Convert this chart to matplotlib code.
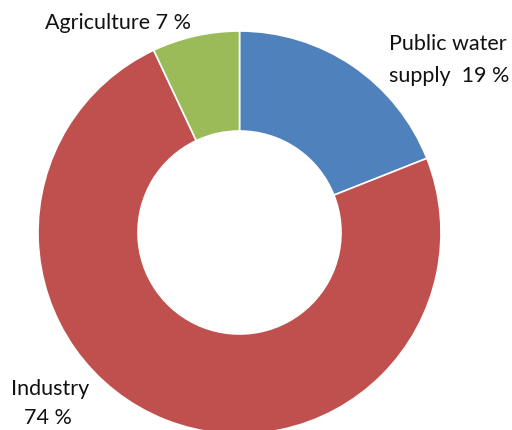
import matplotlib.pyplot as plt

sectors = ["Public water supply", "Industry", "Agriculture"]
shares = [19, 74, 7]
colors = ["#4F81BD", "#C0504D", "#9BBB59"]

plt.rcParams["font.family"] = ["Lato", "DejaVu Sans"]

fig = plt.figure(figsize=(5.12, 4.3), dpi=100)
ax = fig.add_axes([0, 0, 1, 1])

# donut, starting at 12 o'clock and going clockwise
ax.pie(shares, colors=colors, startangle=90, counterclock=False,
       center=(239.5, 197.5), radius=201.5,
       wedgeprops=dict(width=100, edgecolor="white", linewidth=1.2),
       frame=True)
ax.set_xlim(0, 512)
ax.set_ylim(0, 430)
ax.set_aspect("equal")
ax.axis("off")

fs = 15.5
kw = dict(fontsize=fs, va="baseline", color="#111111")
ax.text(389, 380, "Public water", ha="left", **kw)
ax.text(389, 348, "supply  %d %%" % shares[0], ha="left", **kw)
ax.text(45, 401, "Agriculture %d %%" % shares[2], ha="left", **kw)
ax.text(50, 35, "Industry", ha="center", **kw)
ax.text(48, 6, "%d %%" % shares[1], ha="center", **kw)

fig.savefig("out.png", dpi=100)
